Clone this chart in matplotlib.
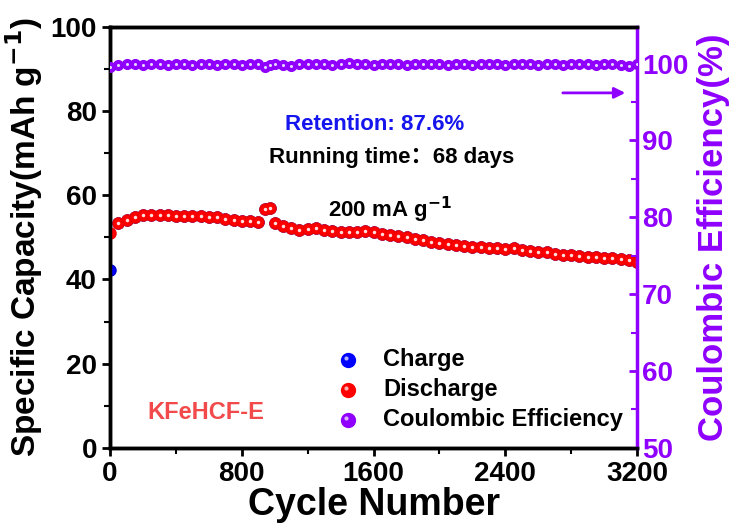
import numpy as np
import matplotlib.pyplot as plt
from matplotlib.ticker import MultipleLocator
from matplotlib import font_manager

plt.rcParams['font.family'] = ['Liberation Sans', 'DejaVu Sans']
plt.rcParams['font.weight'] = 'bold'
names = sorted({f.name for f in font_manager.fontManager.ttflist})
narrow = 'Liberation Sans Narrow' if 'Liberation Sans Narrow' in names else 'Liberation Sans'

# cycle numbers (every 50 cycles)
cycles = [1, 50, 100, 150, 200, 250, 300, 350, 400, 450, 500, 550, 600, 650, 700,
          750, 800, 850, 900, 940, 970, 1000, 1050, 1100, 1150, 1200, 1250, 1300,
          1350, 1400, 1450, 1500, 1550, 1600, 1650, 1700, 1750, 1800, 1850, 1900,
          1950, 2000, 2050, 2100, 2150, 2200, 2250, 2300, 2350, 2400, 2450, 2500,
          2550, 2600, 2650, 2700, 2750, 2800, 2850, 2900, 2950, 3000, 3050, 3100,
          3150, 3200]
discharge = [51.0, 53.3, 54.1, 54.9, 55.2, 55.3, 55.2, 55.2, 55.1, 55.1, 55.0, 55.0,
             54.9, 54.8, 54.4, 54.0, 53.9, 53.8, 53.7, 56.7, 57.0, 53.5, 52.7, 52.1,
             51.8, 52.0, 52.3, 51.8, 51.5, 51.3, 51.2, 51.3, 51.6, 51.3, 50.8, 50.5,
             50.2, 50.0, 49.6, 49.3, 49.0, 48.7, 48.5, 48.2, 48.0, 47.7, 47.6, 47.5,
             47.5, 47.2, 47.4, 47.0, 46.7, 46.5, 46.6, 46.0, 45.8, 45.7, 45.6, 45.4,
             45.3, 45.2, 45.0, 44.9, 44.6, 44.2]
charge = [42.3] + discharge[1:]
ce = [99.6, 99.8, 99.9, 99.9, 99.8, 99.9, 99.9, 99.8, 99.9, 99.9, 99.8, 99.9,
      99.9, 99.8, 99.9, 99.9, 99.8, 99.9, 99.9, 99.6, 99.8, 99.9, 99.8, 99.7,
      99.9, 100.0, 99.9, 99.9, 99.8, 99.9, 100.1, 99.9, 99.9, 99.8, 99.9, 99.9,
      99.9, 99.8, 99.9, 99.9, 99.9, 99.9, 99.8, 99.9, 99.9, 99.8, 99.9, 100.0,
      99.9, 99.8, 99.9, 99.9, 99.9, 99.8, 99.9, 99.9, 99.8, 99.9, 99.9, 99.9,
      99.8, 99.9, 99.9, 99.8, 99.7, 99.9]

purple = '#8F00FF'

fig = plt.figure(figsize=(7.34, 5.25), dpi=100)
ax = fig.add_axes([0.150, 0.147, 0.718, 0.802])
ax2 = ax.twinx()

# charge (mostly hidden under discharge)
ax.plot(cycles, charge, 'o', color='#0000ff', ms=8, mec='#0000cc', zorder=3)
ax.plot(cycles, discharge, 'o', color='#ff0000', ms=8, mec='#ee0000', zorder=4)
ax.plot(cycles[1:], discharge[1:], 'o', color='#ffdede', ms=2.5, mec='none', zorder=5)
ax2.plot(cycles, ce, 'o', color=purple, ms=7, mec=purple, zorder=4)
ax2.plot(cycles, ce, 'o', color='#e8d8ff', ms=2.2, mec='none', zorder=5)

ax.set_xlim(0, 3200)
ax.set_ylim(0, 100)
ax2.set_ylim(50, 104.8)
ax.xaxis.set_major_locator(MultipleLocator(800))
ax.xaxis.set_minor_locator(MultipleLocator(400))
ax.yaxis.set_major_locator(MultipleLocator(20))
ax.yaxis.set_minor_locator(MultipleLocator(10))
ax2.yaxis.set_major_locator(MultipleLocator(10))
ax2.yaxis.set_minor_locator(MultipleLocator(5))

ax.tick_params(axis='both', which='major', direction='out', length=6, width=2,
               labelsize=20, top=False, right=False)
ax.tick_params(axis='both', which='minor', direction='out', length=4, width=1.5,
               top=False, right=False)
ax2.tick_params(axis='y', which='major', direction='in', length=6, width=2,
                labelsize=20, colors=purple)
ax2.tick_params(axis='y', which='minor', direction='in', length=4, width=1.5,
                colors=purple)
for lab in ax.get_xticklabels() + ax.get_yticklabels() + ax2.get_yticklabels():
    lab.set_fontweight('bold')
    lab.set_family(narrow)

for s in ['left', 'bottom', 'top']:
    ax.spines[s].set_linewidth(2.5)
    ax2.spines[s].set_linewidth(2.5)
ax2.spines['right'].set_color(purple)
ax2.spines['right'].set_linewidth(2.5)

ax.set_xlabel('Cycle Number', fontsize=27, fontweight='bold', labelpad=0,
              family=narrow)
ax.set_ylabel('Specific Capacity(mAh g$^{\\mathbf{-1}}$)', fontsize=24,
              fontweight='bold', labelpad=4)
ax2.set_ylabel('Coulombic Efficiency(%)', fontsize=25, fontweight='bold',
               color=purple, labelpad=6)

ax.text(1609, 76.7, 'Retention: 87.6%', color='#1515ee', fontsize=16,
        fontweight='bold', ha='center', va='center')
ax.text(1712, 68.9, 'Running time：68 days', fontsize=16, fontweight='bold',
        ha='center', va='center',
        family=['Liberation Sans', 'Noto Sans CJK SC', 'DejaVu Sans'])
ax.text(1700, 56.5, '200 mA g$^{\\mathbf{-1}}$', fontsize=16, fontweight='bold',
        ha='center', va='center')
ax.text(583, 8.5, 'KFeHCF-E', color='#f24a4a', fontsize=17, fontweight='bold',
        ha='center', va='center')
ax.annotate('', xy=(3145, 84.3), xytext=(2732, 84.3),
            arrowprops=dict(arrowstyle='-|>', color=purple, lw=2,
                            mutation_scale=16))

# legend
lx, ltx = 1445, 1658
for yy, col, lab in [(20.9, '#0000ff', 'Charge'), (13.8, '#ff0000', 'Discharge'),
                     (6.7, purple, 'Coulombic Efficiency')]:
    ax.plot([lx], [yy], 'o', color=col, ms=10, mec=col, clip_on=False, zorder=6)
    ax.plot([lx - 12], [yy + 0.5], 'o', color='white', ms=3, mec='none',
            alpha=0.7, zorder=7)
    ax.text(ltx, yy, lab, fontsize=17, fontweight='bold', va='center', ha='left')

fig.savefig('out.png', dpi=100)
